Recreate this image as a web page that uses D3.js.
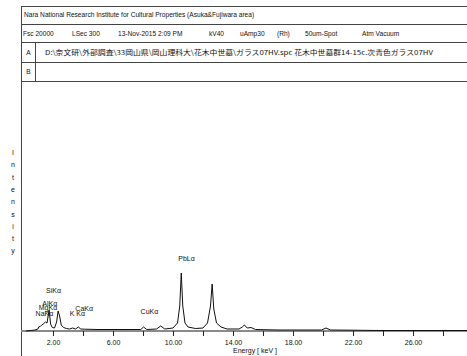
<!DOCTYPE html>
<html>
<head>
<meta charset="utf-8">
<script src="https://cdn.jsdelivr.net/npm/d3@7"></script>
<style>
  body { margin: 0; background: #fff; }
  svg { display: block; font-family: "Liberation Sans", Arial, sans-serif; }
  .hdr { font-size: 6.6px; fill: #111; }
  .jp { font-family: "Noto Sans CJK JP", "Liberation Sans", sans-serif; }
  .tick text { font-size: 7px; fill: #111; }
  .peak-label { font-size: 7px; fill: #111; }
</style>
</head>
<body>
<svg id="chart" width="467" height="356"></svg>
<script>
const WIDTH = 467, HEIGHT = 356;
const BASE_Y = 331, TOP_Y = 83;

// spectrum (keV, counts)
const energies = [0.2, 0.8, 1.0, 1.04, 1.15, 1.25, 1.35, 1.49, 1.6, 1.74, 1.84, 1.95, 2.1, 2.24, 2.34, 2.44,
  2.55, 2.7, 2.9, 3.1, 3.31, 3.5, 3.69, 3.85, 4.1, 5.0, 6.0, 7.0, 7.85, 8.04, 8.25, 8.9, 9.18, 9.45,
  10.0, 10.3, 10.45, 10.55, 10.65, 10.8, 11.0, 11.5, 12.0, 12.3, 12.5, 12.61, 12.72, 12.9, 13.2, 13.6,
  14.4, 14.62, 14.76, 14.95, 15.2, 15.5, 17.0, 19.9, 20.2, 20.5, 24.0, 29.6];
const counts = [0, 10, 20, 40, 45, 60, 70, 90, 80, 210, 70, 35, 30, 90, 200, 150,
  60, 35, 25, 20, 30, 20, 40, 20, 18, 15, 15, 15, 15, 40, 15, 20, 50, 20,
  30, 80, 250, 580, 250, 80, 40, 25, 30, 80, 250, 470, 220, 80, 40, 20,
  20, 40, 60, 30, 35, 15, 10, 10, 30, 10, 5, 5];

// peak annotations
const lineNames = ["PbLα", "SiKα", "AlKα", "MgKα", "NaKα", "K Kα", "CaKα", "CuKα"];
const lineEnergies = [10.55, 1.74, 1.49, 1.25, 1.04, 3.31, 3.69, 8.04];
const lineLabelCounts = [700, 380, 250, 210, 150, 150, 200, 170];

const xTicks = [2, 4, 6, 8, 10, 12, 14, 16, 18, 20, 22, 24, 26, 28];
const xLabelTicks = [2, 6, 10, 14, 18, 22, 26];

const headerTitle = "Nara National Research Institute for Cultural Properties (Asuka&Fujiwara area)";
const headerInfo = [["Fsc 20000", 23], ["LSec 300", 72], ["13-Nov-2015  2:09 PM", 118], ["kV40", 209],
  ["uAmp30", 240], ["(Rh)", 277], ["50um-Spot", 305], ["Atm Vacuum", 362]];
const fileA = "D:\\奈文研\\外部調査\\33岡山県\\岡山理科大\\花木中世墓\\ガラス07HV.spc  花木中世墓群14-15c.次青色ガラス07HV";

const svg = d3.select("#chart");

const x = d3.scaleLinear().domain([0, 29.6]).range([23, WIDTH]);
const y = d3.scaleLinear().domain([0, 2480]).range([BASE_Y, TOP_Y]);

// header table
const box = svg.append("g").attr("stroke", "#444").attr("stroke-width", 1).attr("shape-rendering", "crispEdges");
[6, 24, 42, 62, 81].forEach(yy => {
  box.append("line").attr("x1", 21).attr("x2", WIDTH).attr("y1", yy + 0.5).attr("y2", yy + 0.5);
});
box.append("line").attr("x1", 21.5).attr("x2", 21.5).attr("y1", 6).attr("y2", HEIGHT);
box.append("line").attr("x1", 35.5).attr("x2", 35.5).attr("y1", 42).attr("y2", 81);

svg.append("text").attr("class", "hdr").attr("x", 24).attr("y", 17).text(headerTitle);
headerInfo.forEach(([t, xx]) => {
  svg.append("text").attr("class", "hdr").attr("x", xx).attr("y", 36).text(t);
});
svg.append("text").attr("class", "hdr").attr("x", 28.5).attr("y", 55).attr("text-anchor", "middle").text("A");
svg.append("text").attr("class", "hdr").attr("x", 28.5).attr("y", 74).attr("text-anchor", "middle").text("B");
svg.append("text").attr("class", "hdr jp").attr("x", 45).attr("y", 55)
  .attr("textLength", 388).attr("lengthAdjust", "spacingAndGlyphs").text(fileA);

// y label, one letter per row
"Intensity".split("").forEach((ch, i) => {
  svg.append("text").attr("x", 13).attr("y", 155 + i * 12.3)
    .attr("text-anchor", "middle").attr("font-size", 7).attr("fill", "#111").text(ch);
});

// baseline band
svg.append("line").attr("x1", 21).attr("x2", WIDTH).attr("y1", BASE_Y).attr("y2", BASE_Y)
  .attr("stroke", "#8a8a8a").attr("stroke-width", 2);

// x axis
const xAxis = svg.append("g").attr("transform", `translate(0,${BASE_Y})`)
  .call(d3.axisBottom(x).tickValues(xTicks).tickSize(5).tickPadding(4)
    .tickFormat(v => xLabelTicks.includes(v) ? v.toFixed(2) : ""));
xAxis.select(".domain").remove();
xAxis.selectAll(".tick line").attr("stroke", "#222");

svg.append("text").attr("x", 233).attr("y", 353).attr("font-size", 7).attr("fill", "#111")
  .text("Energy [ keV ]");

// spectrum
const pts = energies.map((e, i) => [e, counts[i]]);
svg.append("path").datum(pts)
  .attr("fill", "none").attr("stroke", "#111").attr("stroke-width", 1)
  .attr("d", d3.line().x(d => x(d[0])).y(d => y(d[1])));

// peak labels
lineNames.forEach((name, i) => {
  svg.append("text").attr("class", "peak-label")
    .attr("x", x(lineEnergies[i]) - 3).attr("y", y(lineLabelCounts[i]))
    .text(name);
});
</script>
</body>
</html>
